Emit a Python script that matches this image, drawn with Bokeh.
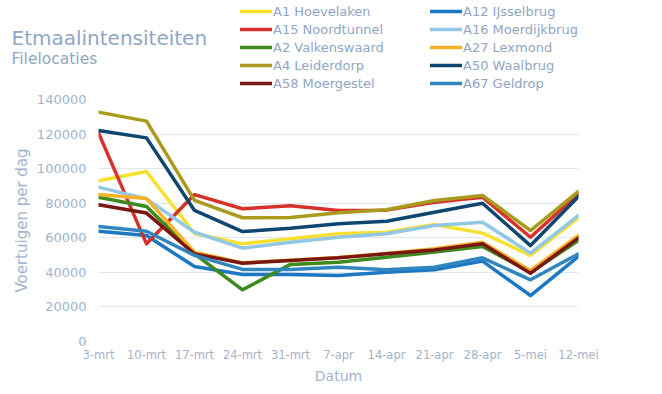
from bokeh.plotting import figure
from bokeh.layouts import column
from bokeh.models import Legend, LegendItem, Label, FixedTicker, Range1d, ColumnDataSource
from bokeh.embed import file_html
from bokeh.resources import INLINE

dates = ["3-mrt", "10-mrt", "17-mrt", "24-mrt", "31-mrt", "7-apr", "14-apr", "21-apr", "28-apr", "5-mei", "12-mei"]
yticks = [0, 20000, 40000, 60000, 80000, 100000, 120000, 140000]

a1 = [93000, 98300, 62500, 56500, 59500, 62300, 63200, 67700, 62700, 49800, 71600]
a12 = [63800, 61300, 43400, 38800, 38800, 38200, 40100, 41500, 46500, 26600, 49200]
a15 = [120700, 56500, 85000, 76800, 78500, 75800, 76000, 80600, 83500, 60300, 85400]
a16 = [89300, 82500, 63200, 54000, 57400, 60300, 62300, 67100, 69000, 51100, 72900]
a2 = [83500, 78100, 50700, 29900, 44600, 45900, 48800, 51700, 55000, 40000, 58400]
a27 = [85000, 82700, 51700, 45500, 47000, 48600, 50900, 53600, 57400, 41100, 61300]
a4 = [132700, 127500, 81600, 71600, 71700, 74500, 76200, 81600, 84500, 64200, 86800]
a50 = [122100, 117800, 75800, 63600, 65500, 68100, 69600, 74800, 80000, 55500, 83900]
a58 = [79100, 74300, 50700, 45300, 46900, 48400, 50700, 53000, 56500, 39500, 60000]
a67 = [66500, 63800, 49800, 41700, 41700, 43000, 41500, 43000, 48400, 35700, 50700]

names = ["A1 Hoevelaken", "A12 IJsselbrug", "A15 Noordtunnel", "A16 Moerdijkbrug",
         "A2 Valkenswaard", "A27 Lexmond", "A4 Leiderdorp", "A50 Waalbrug",
         "A58 Moergestel", "A67 Geldrop"]
series = [a1, a12, a15, a16, a2, a27, a4, a50, a58, a67]
colors = ["#F7E02E", "#1C78C4", "#D8302A", "#92C7E6", "#3F8A1F", "#F8B228",
          "#A89B1E", "#0D466F", "#7B1712", "#3286BE"]

title_text = "Etmaalintensiteiten"
subtitle_text = "Filelocaties"
txt = "#8FA6C4"
tick_col = "#A3B3CB"
FONT = "DejaVu Sans"
LW = 3.5

W = 646
HEAD_H = 91
MAIN_H = 295

# ---------- header: titles + legend ----------
head = figure(width=W, height=HEAD_H, output_backend="svg", toolbar_location=None,
              title=None, x_axis_type=None, y_axis_type=None,
              x_range=Range1d(0, W), y_range=Range1d(HEAD_H, 0),
              min_border_left=0, min_border_right=0, min_border_top=0, min_border_bottom=0)
head.frame_align = False
head.outline_line_color = None
head.background_fill_color = "white"
head.border_fill_color = "white"

nan = float("nan")
proxies = []
for c in colors:
    src = ColumnDataSource(data=dict(x=[nan], y=[nan]))
    proxies.append(head.line("x", "y", source=src, line_color=c, line_width=LW, line_cap="round"))

head.add_layout(Label(x=11, y=37, text=title_text, text_font=FONT, text_font_size="20px",
                      text_color=txt, text_baseline="alphabetic"))
head.add_layout(Label(x=11, y=58, text=subtitle_text, text_font=FONT, text_font_size="15.5px",
                      text_color=txt, text_baseline="alphabetic"))

def mk_legend(idx, loc):
    items = [LegendItem(label=names[i], renderers=[proxies[i]]) for i in idx]
    return Legend(items=items, location=loc, padding=0, margin=0, spacing=0,
                  glyph_width=32, glyph_height=18, label_height=18, label_standoff=1,
                  label_text_font=FONT, label_text_font_size="13px",
                  label_text_color=txt, border_line_alpha=0, background_fill_alpha=0)

head.add_layout(mk_legend([0, 2, 4, 6, 8], (240, -1)))
head.add_layout(mk_legend([1, 3, 5, 7, 9], (430, -1)))

# ---------- main chart ----------
p = figure(width=W, height=MAIN_H, output_backend="svg", toolbar_location=None, title=None,
           x_range=Range1d(0, len(dates) - 1), y_range=Range1d(0, 140000),
           min_border_left=98, min_border_right=68, min_border_top=8, min_border_bottom=45)
p.frame_align = False
p.outline_line_color = None
p.background_fill_color = "white"
p.border_fill_color = "white"

xs = list(range(len(dates)))
for vals, c in zip(series, colors):
    p.line(xs, vals, line_color=c, line_width=LW, line_join="round", line_cap="round")

p.xaxis.ticker = FixedTicker(ticks=xs)
p.xaxis.major_label_overrides = {i: d for i, d in enumerate(dates)}
p.yaxis.ticker = FixedTicker(ticks=yticks)
p.yaxis.formatter.use_scientific = False

for ax in (p.xaxis, p.yaxis):
    ax.axis_line_color = None
    ax.major_tick_line_color = None
    ax.minor_tick_line_color = None
    ax.major_tick_out = 0
    ax.major_tick_in = 0
    ax.minor_tick_out = 0
    ax.minor_tick_in = 0
    ax.major_label_text_color = tick_col
    ax.major_label_text_font = FONT
    ax.axis_label_text_color = tick_col
    ax.axis_label_text_font = FONT
    ax.axis_label_text_font_style = "normal"

p.xaxis.major_label_text_font_size = "11.5px"
p.yaxis.major_label_text_font_size = "13px"
p.xaxis.axis_label = "Datum"
p.yaxis.axis_label = "Voertuigen per dag"
p.xaxis.axis_label_text_font_size = "14px"
p.yaxis.axis_label_text_font_size = "15px"
p.xaxis.major_label_standoff = 6
p.yaxis.major_label_standoff = 12
p.xaxis.axis_label_standoff = 3
p.yaxis.axis_label_standoff = 3

p.xgrid.grid_line_color = None
p.ygrid.grid_line_color = "#E1E6EF"
p.ygrid.grid_line_width = 1.2

layout = column(head, p, spacing=0)
open("out.html", "w").write(file_html(layout, INLINE))
